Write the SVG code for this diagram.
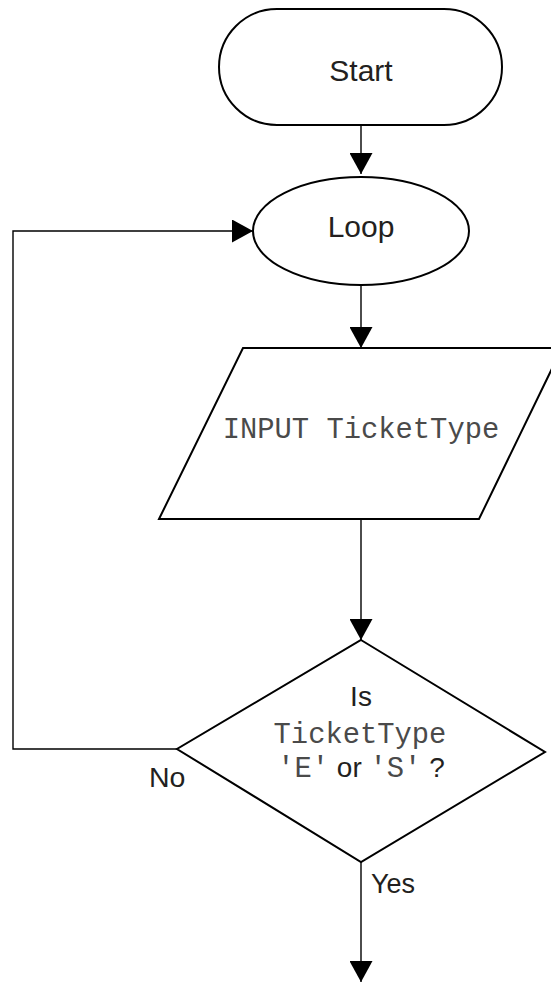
<svg xmlns="http://www.w3.org/2000/svg" width="551" height="983" viewBox="0 0 551 983">
<style>
.shape{fill:#fff;stroke:#000;stroke-width:2}
.conn{fill:none;stroke:#000;stroke-width:1.4}
.sans{font-family:"Liberation Sans",Arial,sans-serif;font-size:28px;fill:#231f20}
.big{font-size:30px}
.mono{font-family:"Liberation Mono","Courier New",monospace;font-size:28.8px;fill:#4a4a4a}
</style>
<defs>
<marker id="arr" viewBox="0 0 21 23" refX="21" refY="11.5" markerWidth="21" markerHeight="23" markerUnits="userSpaceOnUse" orient="auto">
<path d="M0,0 L21,11.5 L0,23 z" fill="#000"/>
</marker>
</defs>
<rect width="551" height="983" fill="#fff"/>
<g id="connectors">
<line class="conn" x1="361" y1="125" x2="361" y2="174" marker-end="url(#arr)"/>
<line class="conn" x1="361" y1="285" x2="361" y2="348" marker-end="url(#arr)"/>
<line class="conn" x1="361" y1="519" x2="361" y2="640" marker-end="url(#arr)"/>
<polyline class="conn" points="177,749 13,749 13,231 253,231" marker-end="url(#arr)"/>
<line class="conn" x1="361" y1="862" x2="361" y2="982" marker-end="url(#arr)"/>
<text class="sans" x="149" y="787" style="font-size:28.5px">No</text>
<text class="sans" x="371" y="893" style="font-size:27px">Yes</text>
</g>
<g id="start">
<rect class="shape" x="219" y="9" width="283" height="116" rx="58" ry="58"/>
<text class="sans big" x="361" y="81" text-anchor="middle">Start</text>
</g>
<g id="loop">
<ellipse class="shape" cx="361" cy="231" rx="108" ry="54"/>
<text class="sans big" x="361" y="237" text-anchor="middle">Loop</text>
</g>
<g id="input">
<polygon class="shape" points="243,348 562,348 479,519 159,519"/>
<text class="mono" x="361" y="438" text-anchor="middle">INPUT TicketType</text>
</g>
<g id="decision">
<polygon class="shape" points="361,640 545,752 361,862 177,749"/>
<text class="sans" x="361" y="706" text-anchor="middle">Is</text>
<text class="mono" x="360" y="743" text-anchor="middle">TicketType</text>
<text x="361" y="777" text-anchor="middle"><tspan class="mono">'E'</tspan><tspan class="sans"> or </tspan><tspan class="mono">'S'</tspan><tspan class="sans"> ?</tspan></text>
</g>
</svg>
